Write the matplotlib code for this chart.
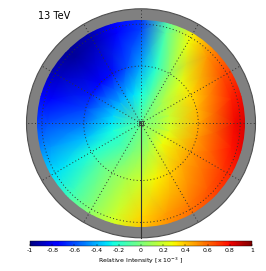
import numpy as np
import matplotlib
matplotlib.use('Agg')
import matplotlib.pyplot as plt
from matplotlib.patches import Circle

plt.rcParams['axes.unicode_minus'] = False

# azimuth on the map (deg, counter-clockwise from the right) and declination rings
azimut = [0, 15, 30, 45, 60, 75, 90, 105, 120, 135, 150, 165,
          180, 195, 210, 225, 240, 255, 270, 285, 300, 315, 330, 345]
dec_anillos = [-90, -75, -60, -35, -23]

# relative intensity [x 10^-3], one list per ring
int_polo = [-0.07] * 24
int_75 = [0.20, 0.18, 0.15, 0.10, 0.00, -0.14, -0.25, -0.32, -0.38, -0.40, -0.38, -0.34,
          -0.30, -0.25, -0.20, -0.15, -0.08, 0.00, 0.05, 0.12, 0.20, 0.28, 0.27, 0.23]
int_60 = [0.45, 0.42, 0.35, 0.25, 0.05, -0.20, -0.42, -0.60, -0.72, -0.75, -0.70, -0.62,
          -0.52, -0.38, -0.22, -0.08, 0.03, 0.12, 0.20, 0.30, 0.38, 0.45, 0.48, 0.48]
int_35 = [0.80, 0.75, 0.65, 0.50, 0.28, -0.10, -0.62, -0.75, -0.90, -0.95, -0.88, -0.75,
          -0.60, -0.45, -0.30, -0.15, 0.03, 0.20, 0.36, 0.48, 0.55, 0.63, 0.70, 0.78]
int_borde = [0.85, 0.80, 0.70, 0.55, 0.32, -0.10, -0.65, -0.78, -0.92, -0.96, -0.90, -0.78,
             -0.62, -0.48, -0.32, -0.15, 0.05, 0.22, 0.40, 0.52, 0.60, 0.68, 0.75, 0.82]

dec_limite = -25
dec_grid = [-30, -60]
cbar_ticks = [-1, -0.8, -0.6, -0.4, -0.2, 0, 0.2, 0.4, 0.6, 0.8, 1]
cbar_labels = ['-1', '-0.8', '-0.6', '-0.4', '-0.2', '0', '0.2', '0.4', '0.6', '0.8', '1']
energia = '13 TeV'

fig = plt.figure(figsize=(2.66, 2.71), dpi=100)
ax = fig.add_axes([26.5 / 266, (271 - 237.8) / 271, 229 / 266, 229 / 271])
ax.set_xlim(-1, 1)
ax.set_ylim(-1, 1)
ax.set_aspect('equal')
ax.axis('off')

# fondo gris (zona sin datos)
ax.add_patch(Circle((0, 0), 1.0, facecolor='#808080', edgecolor='#505050',
                    lw=0.8, clip_on=False, zorder=1))

# mapa en proyeccion ortografica
az = np.radians(np.array(azimut + [360]))
r = np.cos(np.radians(np.array(dec_anillos)))
Z = np.array([int_polo, int_75, int_60, int_35, int_borde])
Z = np.hstack([Z, Z[:, :1]])
AZ, RR = np.meshgrid(az, r)
X = RR * np.cos(AZ)
Y = RR * np.sin(AZ)
malla = ax.pcolormesh(X, Y, Z, cmap='jet', vmin=-1, vmax=1, shading='gouraud', zorder=2)
malla.set_clip_path(Circle((0, 0), np.cos(np.radians(dec_limite)), transform=ax.transData))

# reticula
punteado = (0, (1, 2.5))
t = np.linspace(0, 2 * np.pi, 400)
for d in dec_grid:
    rc = np.cos(np.radians(d))
    ax.plot(rc * np.cos(t), rc * np.sin(t), color='#303030', lw=0.7,
            ls=punteado, zorder=3)
for a in range(0, 360, 30):
    ar = np.radians(a)
    if a == 270:
        ax.plot([0, 0], [0, -1], color='#333333', lw=0.8, zorder=3, clip_on=False)
    else:
        ax.plot([0, np.cos(ar)], [0, np.sin(ar)], color='#303030', lw=0.7,
                ls=punteado, zorder=3, clip_on=False)
ax.plot([0], [0], marker='s', ms=2.5, mfc='none', mec='#333333', mew=0.6, zorder=4)

fig.text(38 / 266, 1 - 16 / 271, energia, fontsize=7, ha='left', va='center')

# barra de color
cax = fig.add_axes([30 / 266, (271 - 246) / 271, 222 / 266, 5 / 271])
cb = fig.colorbar(malla, cax=cax, orientation='horizontal')
cb.set_ticks(cbar_ticks)
cb.set_ticklabels(cbar_labels)
cb.outline.set_linewidth(0.3)
cax.tick_params(labelsize=4.5, length=1.5, width=0.3, pad=1.5, direction='in')
cb.set_label(r'Relative Intensity [x 10$^{-3}$ ]', fontsize=4.5, labelpad=2)

fig.savefig('out.png', dpi=100)
